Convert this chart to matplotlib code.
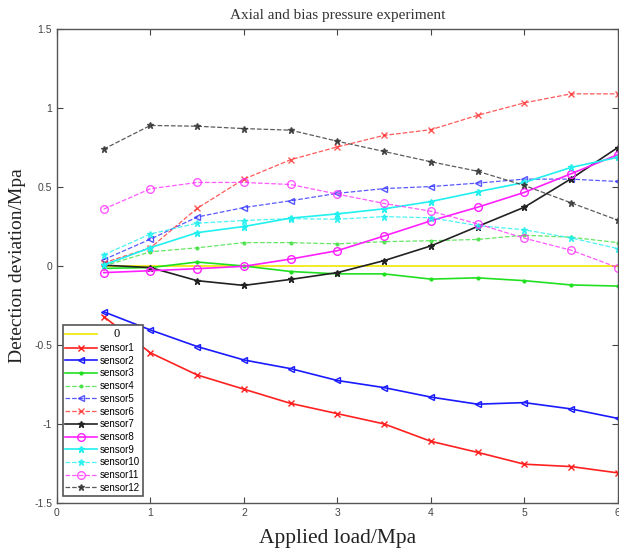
import matplotlib.pyplot as plt
import numpy as np

load = [0.5, 1, 1.5, 2, 2.5, 3, 3.5, 4, 4.5, 5, 5.5, 6]

zero = [0] * 12
sensor1 = [-0.32, -0.55, -0.69, -0.78, -0.87, -0.935, -1.0, -1.11, -1.18, -1.255, -1.27, -1.31]
sensor2 = [-0.29, -0.405, -0.51, -0.595, -0.65, -0.725, -0.77, -0.83, -0.875, -0.865, -0.905, -0.965]
sensor3 = [-0.015, -0.01, 0.025, 0.0, -0.035, -0.05, -0.05, -0.083, -0.075, -0.093, -0.12, -0.127]
sensor4 = [0.0, 0.09, 0.115, 0.148, 0.148, 0.14, 0.154, 0.16, 0.168, 0.195, 0.182, 0.148]
sensor5 = [0.04, 0.17, 0.31, 0.37, 0.413, 0.46, 0.49, 0.503, 0.525, 0.55, 0.55, 0.535]
sensor6 = [0.02, 0.115, 0.365, 0.55, 0.673, 0.754, 0.827, 0.863, 0.954, 1.033, 1.09, 1.09]
sensor7 = [0.005, -0.01, -0.093, -0.123, -0.085, -0.042, 0.034, 0.127, 0.25, 0.372, 0.552, 0.75]
sensor8 = [-0.042, -0.03, -0.017, -0.002, 0.044, 0.097, 0.19, 0.286, 0.372, 0.466, 0.584, 0.705]
sensor9 = [0.006, 0.116, 0.211, 0.25, 0.303, 0.33, 0.362, 0.408, 0.47, 0.529, 0.624, 0.688]
sensor10 = [0.07, 0.203, 0.271, 0.288, 0.3, 0.296, 0.313, 0.305, 0.256, 0.229, 0.178, 0.11]
sensor11 = [0.36, 0.489, 0.529, 0.529, 0.516, 0.455, 0.396, 0.347, 0.267, 0.176, 0.1, -0.01]
sensor12 = [0.74, 0.89, 0.885, 0.87, 0.86, 0.79, 0.725, 0.66, 0.6, 0.51, 0.4, 0.29]

xticks = [0, 1, 2, 3, 4, 5, 6]
yticks = [-1.5, -1, -0.5, 0, 0.5, 1, 1.5]
ytick_labels = ['-1.5', '-1', '-0.5', '0', '0.5', '1', '1.5']

series = [
    ('0', zero, '#f0e800', '-', None, True),
    ('sensor1', sensor1, '#ff2020', '-', 'x', True),
    ('sensor2', sensor2, '#1a1aff', '-', '<', False),
    ('sensor3', sensor3, '#20e020', '-', '.', True),
    ('sensor4', sensor4, '#40e040', '--', '.', True),
    ('sensor5', sensor5, '#3030ff', '--', '<', False),
    ('sensor6', sensor6, '#ff3030', '--', 'x', True),
    ('sensor7', sensor7, '#222222', '-', '*', True),
    ('sensor8', sensor8, '#ff20ff', '-', 'o', False),
    ('sensor9', sensor9, '#20f0f0', '-', '*', True),
    ('sensor10', sensor10, '#20f0f0', '--', '*', True),
    ('sensor11', sensor11, '#ff30ff', '--', 'o', False),
    ('sensor12', sensor12, '#333333', '--', '*', True),
]

fig = plt.figure(figsize=(6.19, 5.49), dpi=100)
ax = fig.add_axes([0.092, 0.084, 0.906, 0.863])

for label, y, color, ls, marker, filled in series:
    lw = 1.2 if ls == '-' else 0.9
    alpha = 1.0 if ls == '-' else 0.8
    ms = 5 if marker in ('x', '*', '<') else 5.5
    if marker == '.':
        ms = 4
    ax.plot(load, y, color=color, linestyle=ls, linewidth=lw, marker=marker,
            markersize=ms, markerfacecolor=color if filled else 'none',
            markeredgecolor=color, markeredgewidth=1.0, alpha=alpha, label=label)

ax.set_xlim(0, 6)
ax.set_ylim(-1.5, 1.5)
ax.set_xticks(xticks)
ax.set_xticklabels([str(t) for t in xticks])
ax.set_yticks(yticks)
ax.set_yticklabels(ytick_labels)
ax.tick_params(direction='in', top=True, right=True, length=4, width=0.8,
               labelsize=7.5, labelcolor='#444444', color='#444444')
for lab in ax.get_xticklabels() + ax.get_yticklabels():
    lab.set_family('Liberation Sans')
for s in ax.spines.values():
    s.set_color('#555555')
    s.set_linewidth(1.0)

ax.set_title('Axial and bias pressure experiment', family='Liberation Serif',
             fontsize=11, color='#333333', pad=7)
ax.set_xlabel('Applied load/Mpa', family='Liberation Serif', fontsize=15.5,
              color='#222222', labelpad=8)
ax.set_ylabel('Detection deviation/Mpa', family='Liberation Serif', fontsize=14,
              color='#222222', labelpad=6)

leg = ax.legend(loc='lower left', bbox_to_anchor=(0.01, 0.015), borderaxespad=0,
                handlelength=3.2, labelspacing=0.28, handletextpad=0.3,
                borderpad=0.3, fancybox=False, framealpha=1, edgecolor='#555555',
                prop={'family': 'Liberation Sans', 'size': 7})
leg.get_frame().set_linewidth(1.2)
first = leg.get_texts()[0]
first.set_family('Liberation Serif')
first.set_fontsize(9)
first.set_position((14, 0))

plt.savefig('out.png', dpi=100)
